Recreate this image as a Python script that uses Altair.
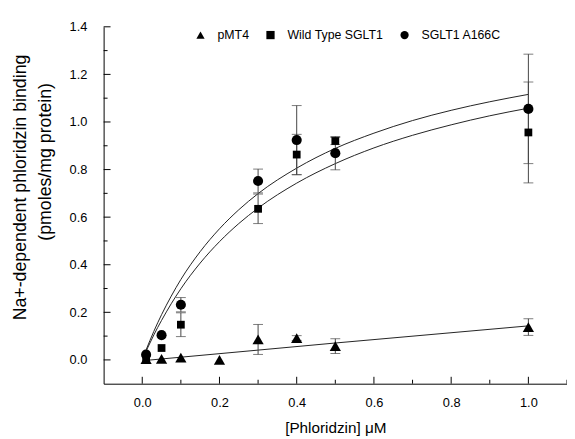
import altair as alt
import pandas as pd

FONT = "Liberation Sans"

# ---------------- data ----------------
series_names = ["pMT4", "Wild Type SGLT1", "SGLT1 A166C"]
shapes = ["triangle-up", "square", "circle"]
marker_sizes = [130, 62, 105]

pmt4_x = [0.01, 0.05, 0.1, 0.2, 0.3, 0.4, 0.5, 1.0]
pmt4_y = [0.003, 0.004, 0.01, 0.0, 0.086, 0.092, 0.058, 0.138]
pmt4_err = [0.0, 0.0, 0.0, 0.0, 0.063, 0.01, 0.031, 0.035]

wt_x = [0.01, 0.05, 0.1, 0.3, 0.4, 0.5, 1.0]
wt_y = [0.005, 0.05, 0.148, 0.635, 0.863, 0.92, 0.956]
wt_err = [0.0, 0.0, 0.05, 0.062, 0.085, 0.015, 0.212]

mut_x = [0.01, 0.05, 0.1, 0.3, 0.4, 0.5, 1.0]
mut_y = [0.022, 0.104, 0.232, 0.752, 0.924, 0.869, 1.055]
mut_err = [0.0, 0.0, 0.03, 0.05, 0.145, 0.07, 0.23]

# fitted curves
fit_x = [0.01, 0.02, 0.03, 0.05, 0.075, 0.1, 0.15, 0.2, 0.25, 0.3,
         0.4, 0.5, 0.6, 0.7, 0.8, 0.9, 1.0]
mut_fit = [0.042, 0.082, 0.120, 0.190, 0.268, 0.338, 0.455, 0.551, 0.631,
           0.699, 0.806, 0.889, 0.953, 1.006, 1.049, 1.085, 1.116]
wt_fit = [0.037, 0.071, 0.105, 0.166, 0.236, 0.299, 0.407, 0.497, 0.573,
          0.638, 0.743, 0.825, 0.891, 0.944, 0.988, 1.026, 1.058]
pmt4_fit_x = [0.01, 0.5, 1.0]
pmt4_fit = [-0.002, 0.071, 0.143]

# axis ticks
x_major = [0.0, 0.2, 0.4, 0.6, 0.8, 1.0]
x_minor = [0.1, 0.3, 0.5, 0.7, 0.9, 1.1]
y_major = [0.0, 0.2, 0.4, 0.6, 0.8, 1.0, 1.2, 1.4]
y_minor = [0.1, 0.3, 0.5, 0.7, 0.9, 1.1, 1.3]

x_title = "[Phloridzin] \u03bcM"
y_title_1 = "Na+-dependent phloridzin binding"
y_title_2 = "(pmoles/mg protein)"

# ---------------- tables ----------------
rows = []
for name, xs_, ys_, es_ in [(series_names[0], pmt4_x, pmt4_y, pmt4_err),
                            (series_names[1], wt_x, wt_y, wt_err),
                            (series_names[2], mut_x, mut_y, mut_err)]:
    for xv, yv, ev in zip(xs_, ys_, es_):
        rows.append({"series": name, "x": xv, "y": yv,
                     "lo": yv - ev, "hi": yv + ev, "err": ev})
pts = pd.DataFrame(rows)
errs = pts[pts["err"] > 0]

fit_rows = []
for xv, yv in zip(fit_x, mut_fit):
    fit_rows.append({"curve": "mut", "x": xv, "y": yv})
for xv, yv in zip(fit_x, wt_fit):
    fit_rows.append({"curve": "wt", "x": xv, "y": yv})
for xv, yv in zip(pmt4_fit_x, pmt4_fit):
    fit_rows.append({"curve": "pmt4", "x": xv, "y": yv})
fits = pd.DataFrame(fit_rows)

W, H = 470, 362

xs = alt.Scale(domain=[-0.1, 1.1], nice=False, zero=False)
ys = alt.Scale(domain=[-0.1, 1.4], nice=False, zero=False)

x_axis = alt.Axis(values=x_major, format=".1f", ticks=False, grid=False,
                  domainColor="black", domainWidth=1, labelColor="black",
                  labelFontSize=13, labelFontWeight="normal", labelPadding=13,
                  labelFont=FONT,
                  title=x_title, titleFont=FONT, titleFontSize=15.5,
                  titleFontWeight="normal", titleColor="black", titlePadding=12)
y_axis = alt.Axis(values=y_major, format=".1f", ticks=False, grid=False,
                  domainColor="black", domainWidth=1, labelColor="black",
                  labelFontSize=13, labelFontWeight="normal", labelPadding=17,
                  labelFont=FONT, title=None)

X = lambda f="x": alt.X(f"{f}:Q", scale=xs, axis=x_axis)
Y = lambda f="y": alt.Y(f"{f}:Q", scale=ys, axis=y_axis)

legend = alt.Legend(title=None, orient="none", legendX=92, legendY=2,
                    direction="horizontal", symbolSize=70,
                    symbolFillColor="black", symbolStrokeColor="black",
                    symbolStrokeWidth=0, labelFontSize=12.5,
                    labelFontWeight="normal", labelFont=FONT,
                    labelColor="black", labelOffset=11, columnPadding=15,
                    padding=0)
shape_enc = alt.Shape("series:N",
                      scale=alt.Scale(domain=series_names, range=shapes),
                      legend=legend)

lines = alt.Chart(fits).mark_line(color="#222", strokeWidth=1,
                                  interpolate="monotone").encode(
    x=X(), y=Y(), detail="curve:N")

bars = alt.Chart(errs).mark_rule(color="#444", strokeWidth=1).encode(
    x=X(), y=Y("lo"), y2="hi:Q")
caps_hi = alt.Chart(errs).mark_tick(color="#444", orient="horizontal",
                                    size=10, thickness=1).encode(x=X(), y=Y("hi"))
caps_lo = alt.Chart(errs).mark_tick(color="#444", orient="horizontal",
                                    size=10, thickness=1).encode(x=X(), y=Y("lo"))

point_layers = []
for name, sz in zip(series_names, marker_sizes):
    point_layers.append(
        alt.Chart(pts[pts["series"] == name]).mark_point(
            filled=True, opacity=1, color="black", strokeWidth=0, size=sz
        ).encode(x=X(), y=Y(), shape=shape_enc)
    )

# inward axis ticks
xt = pd.DataFrame({"x": x_major + x_minor,
                   "len": ["major"] * len(x_major) + ["minor"] * len(x_minor)})
yt = pd.DataFrame({"y": y_major + y_minor,
                   "len": ["major"] * len(y_major) + ["minor"] * len(y_minor)})
xt_major = alt.Chart(xt[xt["len"] == "major"]).mark_rule(color="black").encode(
    x=X(), y=alt.value(H), y2=alt.value(H - 7))
xt_minor = alt.Chart(xt[xt["len"] == "minor"]).mark_rule(color="black").encode(
    x=X(), y=alt.value(H), y2=alt.value(H - 4))
yt_major = alt.Chart(yt[yt["len"] == "major"]).mark_rule(color="black").encode(
    y=Y(), x=alt.value(0), x2=alt.value(7))
yt_minor = alt.Chart(yt[yt["len"] == "minor"]).mark_rule(color="black").encode(
    y=Y(), x=alt.value(0), x2=alt.value(4))

t1 = alt.Chart(pd.DataFrame({"t": [y_title_1]})).mark_text(
    angle=270, font=FONT, fontSize=18, fontWeight="normal", color="black",
    align="center", baseline="middle").encode(
    text="t:N", x=alt.value(-84), y=alt.value(163))
t2 = alt.Chart(pd.DataFrame({"t": [y_title_2]})).mark_text(
    angle=270, font=FONT, fontSize=18, fontWeight="normal", color="black",
    align="center", baseline="middle").encode(
    text="t:N", x=alt.value(-58), y=alt.value(137))

chart = alt.layer(
    lines, bars, caps_hi, caps_lo, *point_layers,
    xt_major, xt_minor, yt_major, yt_minor, t1, t2
).properties(
    width=W, height=H,
    padding={"left": 97, "top": 16, "right": 0, "bottom": 52},
    autosize=alt.AutoSizeParams(type="none"),
).configure(font=FONT).configure_view(stroke=None)

chart.save("out.html", embed_options={"renderer": "svg", "actions": False})
